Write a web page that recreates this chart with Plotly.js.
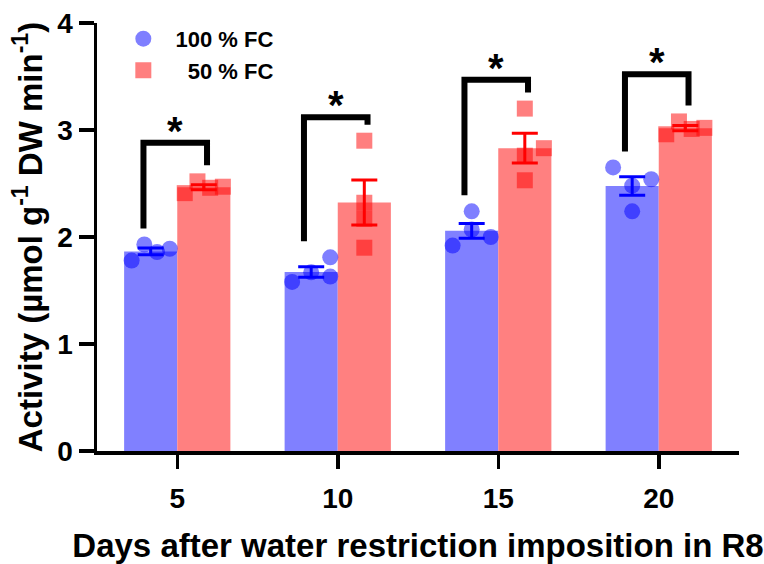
<!DOCTYPE html>
<html>
<head>
<meta charset="utf-8">
<script src="https://cdn.plot.ly/plotly-3.0.1.min.js"></script>
<style>html,body{margin:0;padding:0;background:#fff;}#chart{width:764px;height:564px;}</style>
</head>
<body>
<div id="chart"></div>
<script>
// ---- data ----
const days = ['5', '10', '15', '20'];
const seriesNames = ['100 % FC', '50 % FC'];
// individual replicates per day (n = 4)
const fc100Values = [
  [1.78, 1.93, 1.86, 1.89],
  [1.58, 1.67, 1.81, 1.63],
  [1.92, 2.24, 2.07, 2.00],
  [2.65, 2.48, 2.54, 2.24]
];
const fc50Values = [
  [2.41, 2.52, 2.46, 2.47],
  [2.90, 2.32, 2.17, 1.90],
  [3.20, 2.83, 2.76, 2.53],
  [2.96, 3.08, 3.01, 3.02]
];
const significance = ['*', '*', '*', '*'];
const yTicks = [0, 1, 2, 3, 4];

// ---- layout helpers (scatter-dot arrangement, bracket heights) ----
const jitter100 = [[-3, -1, 1, 3], [-3, 0, 3, 3], [-3, 0, 0, 3], [-3, 0, 3, 0]];
const jitter50  = [[-3, -1, 1, 3], [0, 0, 0, 0], [0, 3, 0, 0], [-3, -1, 1, 3]];
const bracketLevel = [2.88, 3.12, 3.47, 3.52];

const BAR_W = 0.331, SLOT = 0.0396, LEG_GAP = 0.15;
const FONT = '"Liberation Sans", Arial, Helvetica, sans-serif';

const mean = a => a.reduce((s, v) => s + v, 0) / a.length;
const sem = a => { const m = mean(a); const v = a.reduce((s, x) => s + (x - m) * (x - m), 0) / (a.length - 1); return Math.sqrt(v / a.length); };

const idx = days.map((d, i) => i);
const pos100 = idx.map(i => i - BAR_W / 2);
const pos50 = idx.map(i => i + BAR_W / 2);

function points(values, centers, jit) {
  const x = [], y = [];
  values.forEach((arr, i) => arr.forEach((v, k) => { x.push(centers[i] + jit[i][k] * SLOT); y.push(v); }));
  return { x, y };
}
const p100 = points(fc100Values, pos100, jitter100);
const p50 = points(fc50Values, pos50, jitter50);

const traces = [
  { type: 'bar', x: pos100, y: fc100Values.map(mean), width: BAR_W, marker: { color: '#8080FF', line: { width: 0 } }, showlegend: false, hoverinfo: 'skip' },
  { type: 'bar', x: pos50, y: fc50Values.map(mean), width: BAR_W, marker: { color: '#FF8080', line: { width: 0 } }, showlegend: false, hoverinfo: 'skip' },
  { type: 'scatter', mode: 'markers', name: '\u00a0\u00a0' + seriesNames[0], x: p100.x, y: p100.y,
    marker: { symbol: 'circle', size: 16, color: '#0000FF', opacity: 0.5, line: { width: 0 } } },
  { type: 'scatter', mode: 'markers', name: '\u00a0\u00a0\u00a0\u00a0' + seriesNames[1], x: p50.x, y: p50.y,
    marker: { symbol: 'square', size: 16, color: '#FF0000', opacity: 0.5, line: { width: 0 } } },
  { type: 'scatter', mode: 'markers', x: pos100, y: fc100Values.map(mean), showlegend: false, hoverinfo: 'skip',
    marker: { size: 1, opacity: 0 },
    error_y: { type: 'data', array: fc100Values.map(sem), visible: true, color: '#0000FF', thickness: 3, width: 13 } },
  { type: 'scatter', mode: 'markers', x: pos50, y: fc50Values.map(mean), showlegend: false, hoverinfo: 'skip',
    marker: { size: 1, opacity: 0 },
    error_y: { type: 'data', array: fc50Values.map(sem), visible: true, color: '#FF0000', thickness: 3, width: 13 } }
];

const shapes = [], annotations = [];
idx.forEach(i => {
  const xl = pos100[i] - 0.045, xr = pos50[i] + 0.02;
  const yl = Math.max(...fc100Values[i]) + LEG_GAP;
  const yr = Math.max(...fc50Values[i]) + LEG_GAP;
  const yt = bracketLevel[i];
  shapes.push({ type: 'path', xref: 'x', yref: 'y', path: `M${xl},${yl} L${xl},${yt} L${xr},${yt} L${xr},${yr}`,
    line: { color: '#000', width: 6 }, fillcolor: 'rgba(0,0,0,0)' });
  annotations.push({ xref: 'x', yref: 'y', x: (xl + xr) / 2, y: yt, text: significance[i], showarrow: false,
    yanchor: 'middle', yshift: 12, font: { family: FONT, size: 40, color: '#000', weight: 'bold' } });
});

const layout = {
  width: 764, height: 564,
  margin: { l: 97, r: 25, t: 23, b: 113 },
  paper_bgcolor: '#fff', plot_bgcolor: '#fff',
  font: { family: FONT, color: '#000' },
  barmode: 'overlay',
  xaxis: {
    range: [-0.5, 3.5], tickvals: idx, ticktext: days, showgrid: false, zeroline: false,
    showline: true, linewidth: 3.5, linecolor: '#000', ticks: 'outside', ticklen: 14, tickwidth: 3.5, tickcolor: '#000',
    tickfont: { family: FONT, size: 28, weight: 'bold', color: '#000' }, ticklabelstandoff: 6,
    title: { text: 'Days after water restriction imposition in R8', standoff: 23, font: { family: FONT, size: 33, weight: 'bold', color: '#000' } }
  },
  yaxis: {
    range: [0, 4], tickvals: yTicks, showgrid: false, zeroline: false,
    showline: true, linewidth: 3.5, linecolor: '#000', ticks: 'outside', ticklen: 15, tickwidth: 3.5, tickcolor: '#000',
    tickfont: { family: FONT, size: 28, weight: 'bold', color: '#000' },
    title: { text: 'Activity (µmol g<sup>-1</sup> DW min<sup>-1</sup>)', standoff: 6, font: { family: FONT, size: 33, weight: 'bold', color: '#000' } }
  },
  legend: { x: 0.041, y: 1.012, xanchor: 'left', yanchor: 'top', bgcolor: 'rgba(0,0,0,0)',
    font: { family: FONT, size: 22, weight: 'bold', color: '#000' }, traceorder: 'normal' },
  shapes, annotations, showlegend: true
};

Plotly.newPlot('chart', traces, layout, { displayModeBar: false, staticPlot: true });
</script>
</body>
</html>
